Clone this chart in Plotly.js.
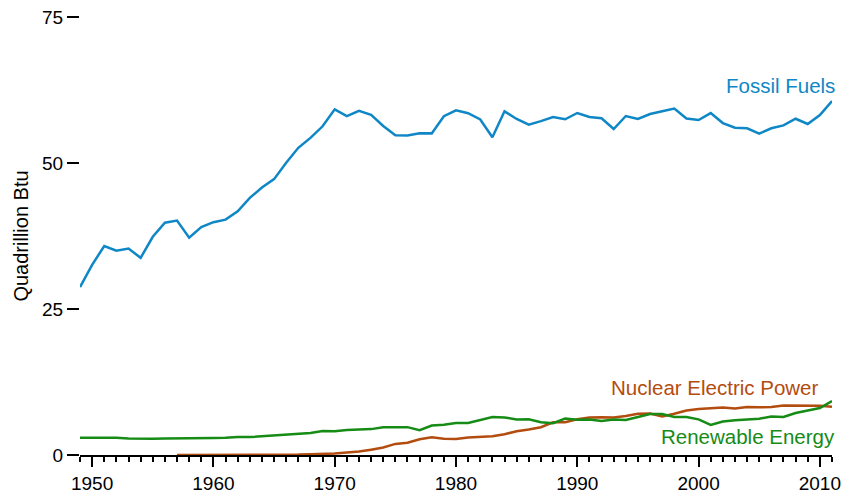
<!DOCTYPE html>
<html>
<head>
<meta charset="utf-8">
<script src="https://cdn.plot.ly/plotly-3.0.1.min.js"></script>
<style>html,body{margin:0;padding:0;background:#fff;}#chart{width:846px;height:497px;}</style>
</head>
<body>
<div id="chart"></div>
<script>
const years = [];
for (let y = 1949; y <= 2011; y++) years.push(y);

const fossilFuels = [28.748,32.563,35.792,34.977,35.349,33.764,37.364,39.771,40.133,37.216,
39.045,39.869,40.307,41.732,44.037,45.789,47.235,50.035,52.597,54.306,
56.286,59.186,58.042,58.938,58.241,56.331,54.733,54.723,55.101,55.074,
58.006,59.008,58.529,57.458,54.416,58.849,57.539,56.575,57.167,57.875,
57.483,58.560,57.872,57.655,55.822,58.044,57.540,58.387,58.857,59.314,
57.614,57.366,58.541,56.834,56.033,55.942,55.038,55.942,56.439,57.577,
56.684,58.214,60.6];

const nuclearYears = years.slice(years.indexOf(1957));
const nuclear = [0.002,0.002,0.002,0.006,0.020,0.026,0.038,0.040,0.043,0.064,
0.088,0.142,0.154,0.239,0.413,0.584,0.910,1.272,1.900,2.111,
2.702,3.024,2.776,2.739,3.008,3.131,3.203,3.553,4.076,4.380,
4.754,5.587,5.602,6.104,6.422,6.479,6.410,6.694,7.075,7.087,
6.597,7.068,7.610,7.862,8.029,8.145,7.960,8.223,8.161,8.215,
8.455,8.427,8.356,8.434,8.26];

const renewable = [2.974,2.978,2.958,2.940,2.831,2.754,2.784,2.824,2.826,2.923,
2.907,2.928,2.964,3.099,3.072,3.213,3.395,3.445,3.690,3.767,
4.096,4.076,4.268,4.398,4.433,4.769,4.723,4.768,4.249,5.039,
5.166,5.485,5.478,5.980,6.496,6.438,6.084,6.111,5.622,5.457,
6.235,6.041,6.069,5.821,6.083,5.988,6.558,7.012,7.017,6.494,
6.517,6.104,5.164,5.734,5.944,6.062,6.221,6.586,6.508,7.191,
7.603,8.045,9.236];

const seriesNames = ["Fossil Fuels", "Nuclear Electric Power", "Renewable Energy"];
const colors = ["#0f87c6", "#b34c0f", "#168b16"];

const traces = [
  {x: years, y: fossilFuels, name: seriesNames[0]},
  {x: nuclearYears, y: nuclear, name: seriesNames[1]},
  {x: years, y: renewable, name: seriesNames[2]}
].map((t, i) => Object.assign(t, {type: "scatter", mode: "lines", line: {color: colors[i], width: 2.5}, hoverinfo: "x+y"}));

const font = "Liberation Sans, Arial, sans-serif";

const layout = {
  width: 846, height: 497,
  margin: {l: 80, r: 14, t: 17, b: 42},
  paper_bgcolor: "#fff", plot_bgcolor: "#fff",
  showlegend: false,
  font: {family: font, color: "#000"},
  xaxis: {
    range: [1949, 2011], showgrid: false, zeroline: false,
    showline: true, linecolor: "#000", linewidth: 2,
    tickmode: "linear", tick0: 1950, dtick: 10,
    ticks: "outside", ticklen: 10, tickwidth: 2, tickcolor: "#000",
    tickfont: {size: 19, family: font, color: "#000"},
    minor: {tickmode: "linear", tick0: 1949, dtick: 1, ticks: "outside", ticklen: 5, tickwidth: 2, tickcolor: "#000", showgrid: false}
  },
  yaxis: {
    range: [0, 75], showgrid: false, zeroline: false, showline: false,
    tickmode: "array", tickvals: [0, 25, 50, 75], ticktext: ["0", "25", "50", "75"],
    ticks: "outside", ticklen: 12, tickwidth: 2, tickcolor: "#000",
    tickfont: {size: 19, family: font, color: "#000"},
    title: {text: "Quadrillion Btu", font: {size: 20, family: font, color: "#000"}, standoff: 8}
  },
  annotations: [
    {xref: "paper", yref: "y", x: 1.0066, y: 63.2, xanchor: "right", yanchor: "middle", text: seriesNames[0], showarrow: false, font: {size: 20.5, family: font, color: colors[0]}},
    {xref: "x", yref: "y", x: 2010.1, y: 11.6, xanchor: "right", yanchor: "middle", text: seriesNames[1], showarrow: false, font: {size: 20.5, family: font, color: colors[1]}},
    {xref: "paper", yref: "y", x: 1.0066, y: 3.1, xanchor: "right", yanchor: "middle", text: seriesNames[2], showarrow: false, font: {size: 20.5, family: font, color: colors[2]}}
  ]
};

Plotly.newPlot("chart", traces, layout, {staticPlot: true, displayModeBar: false});
</script>
</body>
</html>
